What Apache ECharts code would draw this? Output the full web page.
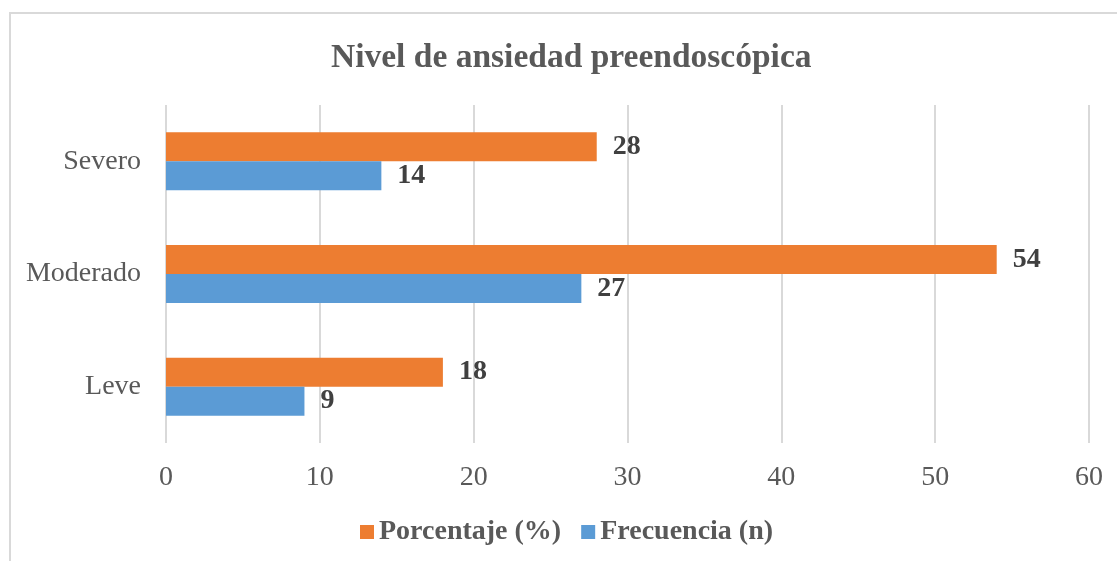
<!DOCTYPE html>
<html>
<head>
<meta charset="utf-8">
<script src="https://cdn.jsdelivr.net/npm/echarts@6/dist/echarts.min.js"></script>
<style>
  html, body { margin: 0; padding: 0; background: #fff; }
  #chart { width: 1117px; height: 561px; }
</style>
</head>
<body>
<div id="chart"></div>
<script>
const categories = ['Leve', 'Moderado', 'Severo']
const frecuencia = [9, 27, 14]
const porcentaje = [18, 54, 28]
const xTicks = { min: 0, max: 60, interval: 10 }

const serif = '"Liberation Serif", "DejaVu Serif", serif'
const textGray = '#595959'
const labelDark = '#404040'
const gridGray = '#D9D9D9'

const chart = echarts.init(document.getElementById('chart'))

const barLabel = {
  show: true,
  position: 'right',
  distance: 16,
  fontFamily: serif,
  fontWeight: 'bold',
  fontSize: 28,
  color: labelDark
}

chart.setOption({
  animation: false,
  title: {
    text: 'Nivel de ansiedad preendoscópica',
    left: 326,
    top: 36,
    textStyle: { fontFamily: serif, fontWeight: 'bold', fontSize: 33.5, color: textGray }
  },
  graphic: [{
    type: 'rect',
    shape: { x: 10, y: 13, width: 1200, height: 600 },
    style: { fill: 'none', stroke: gridGray, lineWidth: 2 },
    silent: true
  }],
  legend: {
    data: ['Porcentaje (%)', 'Frecuencia (n)'],
    bottom: 10,
    left: 355,
    itemWidth: 14,
    itemHeight: 14,
    itemGap: 20,
    icon: 'rect',
    textStyle: { fontFamily: serif, fontWeight: 'bold', fontSize: 28, color: textGray }
  },
  grid: { left: 166, right: 28, top: 105, bottom: 118 },
  xAxis: {
    type: 'value',
    min: xTicks.min,
    max: xTicks.max,
    interval: xTicks.interval,
    axisLine: { show: false },
    axisTick: { show: false },
    splitLine: { lineStyle: { color: gridGray, width: 2 } },
    axisLabel: { fontFamily: serif, fontSize: 28, color: textGray, margin: 21 }
  },
  yAxis: {
    type: 'category',
    data: categories,
    axisLine: { show: false },
    axisTick: { show: false },
    axisLabel: { fontFamily: serif, fontSize: 28, color: textGray, margin: 25 }
  },
  series: [
    {
      name: 'Porcentaje (%)',
      type: 'bar',
      data: porcentaje,
      barWidth: 29,
      barGap: '0%',
      itemStyle: { color: '#ED7D31' },
      label: barLabel
    },
    {
      name: 'Frecuencia (n)',
      type: 'bar',
      data: frecuencia,
      barWidth: 29,
      barGap: '0%',
      itemStyle: { color: '#5B9BD5' },
      label: barLabel
    }
  ]
})
</script>
</body>
</html>
